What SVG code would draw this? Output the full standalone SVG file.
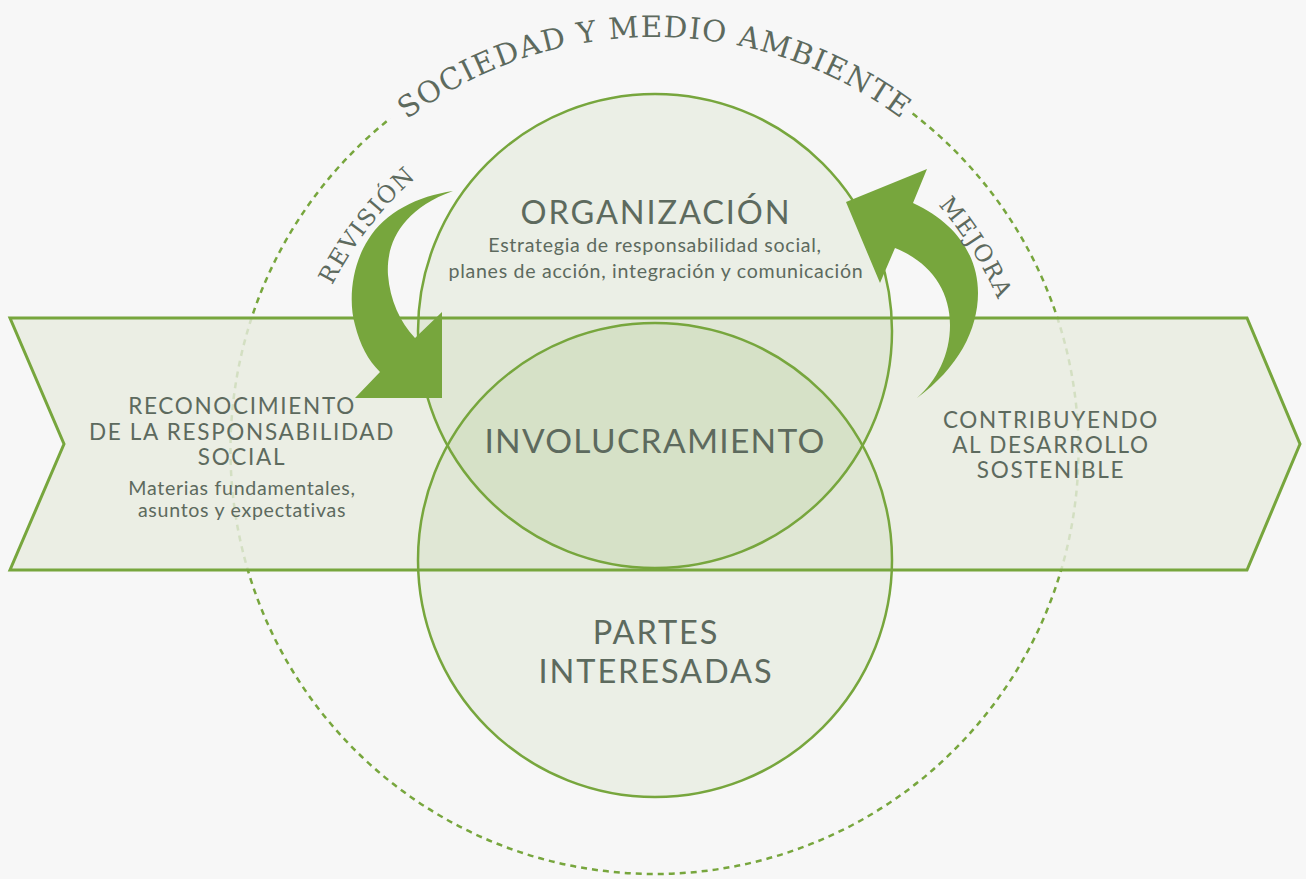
<svg xmlns="http://www.w3.org/2000/svg" width="1306" height="879" viewBox="0 0 1306 879">
<defs>
<style>
.t{font-family:Lato,"Open Sans","Liberation Sans",sans-serif;fill:#5d6a5e;text-anchor:middle}
.band{font-size:22.5px;letter-spacing:1.7px}
.sub{font-size:19.6px;letter-spacing:0.7px}
.big{font-size:32.5px;letter-spacing:1.9px}
.arc{font-family:"DejaVu Serif","Liberation Serif",serif;fill:#5d6a5e}
.circ{fill:#77a63d;fill-opacity:0.09;stroke:#77a63d;stroke-width:2.5}
.arrow{fill:#77a63d}
</style>
<path id="pSoc" d="M241.5,450 A413,413 0 0 1 1067.5,450"/>
<path id="pRev" d="M292.5,450 A362,362 0 0 1 1016.5,450"/>
<path id="pMej" d="M279.5,450 A375,375 0 0 1 1029.5,450"/>
</defs>
<rect width="1306" height="879" fill="#f7f7f7"/>
<g id="sociedad">
<path d="M912.6,113.6 A424,424 0 1 1 390.5,118.2" fill="none" stroke="#77a63d" stroke-width="2.5" stroke-dasharray="6 5"/>
<text class="arc" font-size="29.5" letter-spacing="1.2"><textPath href="#pSoc" startOffset="50%" text-anchor="middle">SOCIEDAD Y MEDIO AMBIENTE</textPath></text>
</g>
<g id="banda">
<polygon points="10,318 1247,318 1300,444 1247,570 10,570 64,444" fill="#e8ecdf" fill-opacity="0.82" stroke="#77a63d" stroke-width="3"/>
<text class="t band" x="242" y="414">RECONOCIMIENTO</text>
<text class="t band" x="242" y="440">DE LA RESPONSABILIDAD</text>
<text class="t band" x="242" y="465">SOCIAL</text>
<text class="t sub" x="242" y="495">Materias fundamentales,</text>
<text class="t sub" x="242" y="517">asuntos y expectativas</text>
<text class="t band" x="1051" y="428">CONTRIBUYENDO</text>
<text class="t band" x="1051" y="453">AL DESARROLLO</text>
<text class="t band" x="1051" y="478">SOSTENIBLE</text>
</g>
<g id="organizacion">
<circle class="circ" cx="655" cy="331" r="237"/>
<text class="t big" x="656" y="224">ORGANIZACIÓN</text>
<text class="t sub" x="655" y="252">Estrategia de responsabilidad social,</text>
<text class="t sub" x="656" y="278">planes de acción, integración y comunicación</text>
</g>
<g id="partes">
<circle class="circ" cx="655" cy="560" r="237"/>
<text class="t big" x="656" y="644">PARTES</text>
<text class="t big" x="656" y="683">INTERESADAS</text>
</g>
<g id="involucramiento">
<text class="t" font-size="33.5" letter-spacing="1.3" x="655" y="453">INVOLUCRAMIENTO</text>
</g>
<g id="connectors">
<path class="arrow" d="M453,191 C418,196 385,212 368,240 C352,265 348,300 355,325 C360,345 368,360 380,372 L355,398 L442,398 L442,312 L415,338 C400,322 390,300 388,275 C386,245 400,210 453,191 Z"/>
<path class="arrow" d="M917,398 C958,368 978,330 978,293 C978,255 955,222 913,203 L927,169 L846,202 L880,283 L895,248 C930,262 950,290 950,325 C950,355 937,380 917,398 Z"/>
<text class="arc" font-size="23.5" letter-spacing="1.5"><textPath href="#pRev" startOffset="240" text-anchor="middle">REVISIÓN</textPath></text>
<text class="arc" font-size="23.5" letter-spacing="1.5"><textPath href="#pMej" startOffset="967" text-anchor="middle">MEJORA</textPath></text>
</g>
</svg>
